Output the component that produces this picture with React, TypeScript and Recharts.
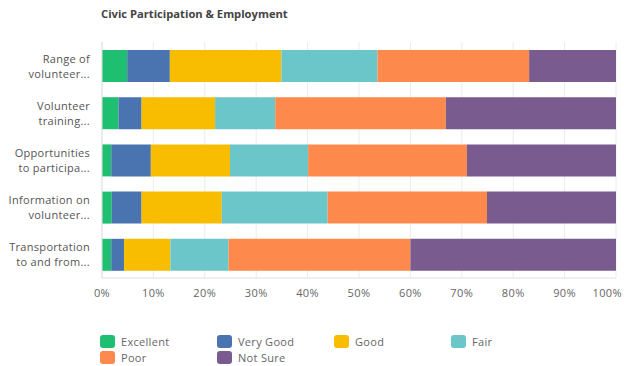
import React from "react";
import { BarChart, Bar, XAxis, YAxis, CartesianGrid } from "recharts";

const categories = [
  ["Range of", "volunteer..."],
  ["Volunteer", "training..."],
  ["Opportunities", "to participa..."],
  ["Information on", "volunteer..."],
  ["Transportation", "to and from..."],
];
const seriesNames = ["Excellent", "Very Good", "Good", "Fair", "Poor", "Not Sure"];
const seriesColors = ["#1fbf72", "#4a74b0", "#f8bd00", "#6ac6c9", "#fd8a4c", "#7a5b8f"];
const excellent = [4.9, 3.2, 1.8, 1.9, 1.8];
const veryGood = [8.3, 4.5, 7.7, 5.8, 2.5];
const good = [21.7, 14.3, 15.4, 15.6, 9.0];
const fair = [18.7, 11.7, 15.2, 20.6, 11.3];
const poor = [29.5, 33.2, 30.9, 31.0, 35.4];
const notSure = [16.9, 33.1, 29.0, 25.1, 40.0];
const xTicks = [0, 10, 20, 30, 40, 50, 60, 70, 80, 90, 100];

const seriesValues = [excellent, veryGood, good, fair, poor, notSure];
const data = categories.map((c, i) => {
  const row: Record<string, any> = { name: c.join("|") };
  seriesNames.forEach((s, k) => {
    row[s] = seriesValues[k][i];
  });
  return row;
});

const FONT = "'Open Sans', sans-serif";

const YTick = (props: any) => {
  const { x, y, payload } = props;
  const lines = String(payload.value).split("|");
  return (
    <g>
      {lines.map((l, i) => (
        <text
          key={i}
          x={x - 4}
          y={y + (i === 0 ? -6 : 9)}
          textAnchor="end"
          dominantBaseline="middle"
          fontSize={11}
          fill="#555"
          fontFamily={FONT}
          style={{ letterSpacing: 0.3 }}
        >
          {l}
        </text>
      ))}
    </g>
  );
};

const XTick = (props: any) => {
  const { x, y, payload } = props;
  const last = payload.value === 100;
  return (
    <text
      x={last ? 622 : x}
      y={y + 8}
      textAnchor={last ? "end" : "middle"}
      dominantBaseline="middle"
      fontSize={11}
      fill="#666"
      fontFamily={FONT}
      style={{ letterSpacing: 0.4 }}
    >
      {`${payload.value}%`}
    </text>
  );
};

export default function App() {
  return (
    <div style={{ position: "absolute", left: 0, top: 0, width: 624, height: 366, background: "#fff", fontFamily: FONT }}>
      <div
        style={{
          position: "absolute",
          left: 101,
          top: 6,
          fontSize: 11.2,
          fontWeight: 700,
          color: "#444",
          whiteSpace: "nowrap",
        }}
      >
        Civic Participation &amp; Employment
      </div>
      <BarChart
        width={624}
        height={366}
        data={data}
        layout="vertical"
        margin={{ top: 42, right: 8, bottom: 68, left: 0 }}
      >
        <CartesianGrid horizontal={false} stroke="#ececec" />
        <XAxis
          type="number"
          domain={[0, 100]}
          ticks={xTicks}
          axisLine={{ stroke: "#e0e0e0" }}
          tickLine={false}
          tick={<XTick />}
          height={20}
          interval={0}
        />
        <YAxis
          type="category"
          dataKey="name"
          width={102}
          axisLine={{ stroke: "#e0e0e0" }}
          tickLine={false}
          tick={<YTick />}
        />
        {seriesNames.map((s, k) => (
          <Bar key={s} dataKey={s} stackId="a" fill={seriesColors[k]} barSize={32} isAnimationActive={false} />
        ))}
      </BarChart>
      <div style={{ position: "absolute", left: 100, top: 334, width: 520 }}>
        {seriesNames.map((s, k) => (
          <div
            key={s}
            style={{
              position: "absolute",
              left: (k % 4) * 117,
              top: Math.floor(k / 4) * 16.5,
              display: "flex",
              alignItems: "center",
              height: 14,
            }}
          >
            <span
              style={{
                display: "inline-block",
                width: 15,
                height: 13,
                borderRadius: 3,
                background: seriesColors[k],
                marginRight: 6,
              }}
            />
            <span style={{ fontSize: 11, color: "#666", letterSpacing: 0.3 }}>{s}</span>
          </div>
        ))}
      </div>
    </div>
  );
}
